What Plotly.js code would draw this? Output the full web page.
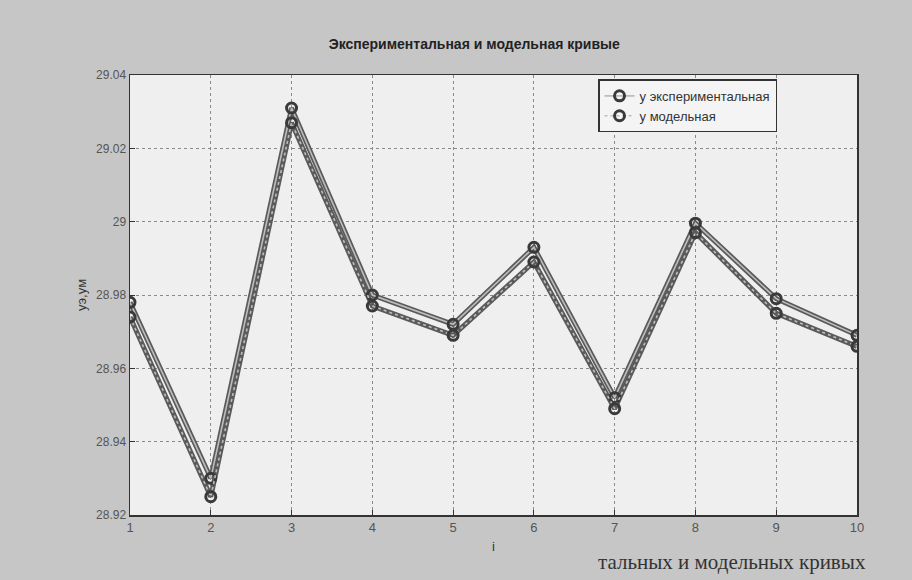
<!DOCTYPE html>
<html><head><meta charset="utf-8">
<script src="https://cdn.plot.ly/plotly-3.0.1.min.js"></script>
<style>body{margin:0;background:#c6c6c6}#c{width:912px;height:580px}</style>
</head><body><div id="c"></div>
<script>
const iVals = [1,2,3,4,5,6,7,8,9,10];
const yExp = [28.978,28.930,29.031,28.980,28.972,28.993,28.952,28.9996,28.979,28.969];
const yMod = [28.974,28.925,29.027,28.977,28.969,28.989,28.949,28.997,28.975,28.966];
const yTickVals = [28.92,28.94,28.96,28.98,29,29.02,29.04];
const yTickText = ['28.92','28.94','28.96','28.98','29','29.02','29.04'];
const xTickVals = [1,2,3,4,5,6,7,8,9,10];
const names = ['y экспериментальная','y модельная'];

function outerTrace(y){return {x:iVals,y:y,mode:'lines',line:{color:'#5a5a5a',width:5},showlegend:false,hoverinfo:'skip'};}
function innerTrace(y,name,dash){return {x:iVals,y:y,name:name,mode:'lines+markers',
  line:{color:'#bdbdbd',width:1.6,dash:dash},
  marker:{symbol:'circle-open',size:10,color:'#3a3a3a',line:{width:3,color:'#3a3a3a'}}};}

const data = [outerTrace(yExp),outerTrace(yMod),innerTrace(yExp,names[0],'solid'),innerTrace(yMod,names[1],'dot')];

const layout = {
  width:912,height:580,
  paper_bgcolor:'#c6c6c6',plot_bgcolor:'#efefef',
  margin:{l:130,r:55,t:75,b:65},
  font:{family:'Liberation Sans, Arial, sans-serif',size:12,color:'#444'},
  title:{text:'<b>Экспериментальная и модельная кривые</b>',x:0.52,xanchor:'center',y:0.915,yanchor:'bottom',font:{size:14,color:'#222'}},
  xaxis:{range:[1,10],tickvals:xTickVals,showgrid:true,gridcolor:'#8a8a8a',griddash:'dot',gridwidth:1,
    zeroline:false,showline:true,linecolor:'#333',linewidth:1.5,mirror:true,ticks:'inside',ticklen:5,tickcolor:'#333',
    title:{text:'i',font:{size:13,color:'#333'},standoff:8},tickfont:{size:13,color:'#555'}},
  yaxis:{range:[28.92,29.04],tickvals:yTickVals,ticktext:yTickText,showgrid:true,gridcolor:'#8a8a8a',griddash:'dot',gridwidth:1,
    zeroline:false,showline:true,linecolor:'#333',linewidth:1.5,mirror:true,ticks:'inside',ticklen:5,tickcolor:'#333',
    title:{text:'yэ,yм',font:{size:13,color:'#333'},standoff:6},tickfont:{size:12,color:'#555'}},
  legend:{x:0.89,xanchor:'right',y:0.99,yanchor:'top',bgcolor:'#f4f4f4',bordercolor:'#333',borderwidth:1.5,
    font:{size:13,color:'#333'},tracegroupgap:0},
  annotations:[{xref:'paper',yref:'paper',x:1.015,y:-0.107,xanchor:'right',yanchor:'middle',showarrow:false,
    text:'тальных и модельных кривых',font:{family:'Liberation Serif, Times New Roman, serif',size:21,color:'#333'}}]
};
Plotly.newPlot('c',data,layout,{displayModeBar:false,staticPlot:true});
</script></body></html>
